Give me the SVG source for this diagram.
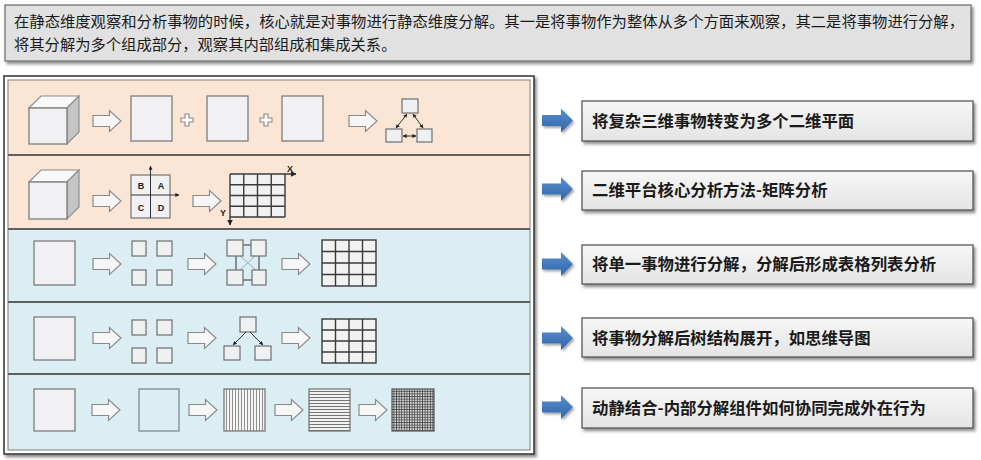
<svg xmlns="http://www.w3.org/2000/svg" width="981" height="460" viewBox="0 0 981 460">
<style>
.t{font-family:"Noto Sans CJK SC","Liberation Sans",sans-serif;fill:#1a1a1a}
.hd{font-size:15.3px}
.lb{font-size:16.4px;font-weight:bold}
.sq{fill:#f1f1f3;stroke:#7d7d7d;stroke-width:1.3}
.sm{fill:#eef0f2;stroke:#6f6f6f;stroke-width:1.2}
.ga{fill:#f6f6f6;stroke:#8a8a8a;stroke-width:1.2}
.ba{fill:url(#bg);filter:url(#sh2)}
.box{fill:url(#lg);stroke:#4d4d4d;stroke-width:1.2;filter:url(#sh)}
.ln{stroke:#333;stroke-width:1;fill:none}
.gl{stroke:#3a3a3a;stroke-width:1.4;fill:none}
.ax{font-family:"Liberation Sans",sans-serif;font-weight:bold;font-size:9px;fill:#222}
</style>
<defs>
<linearGradient id="lg" x1="0" y1="0" x2="0" y2="1"><stop offset="0" stop-color="#f7f7f7"/><stop offset="1" stop-color="#e4e4e4"/></linearGradient>
<linearGradient id="bg" x1="0" y1="0" x2="0" y2="1"><stop offset="0" stop-color="#5a8fd0"/><stop offset="1" stop-color="#2f64a8"/></linearGradient>
<filter id="sh" x="-5%" y="-20%" width="110%" height="150%"><feDropShadow dx="2" dy="2.5" stdDeviation="1.5" flood-color="#000" flood-opacity="0.45"/></filter>
<filter id="sh2" x="-20%" y="-30%" width="150%" height="170%"><feDropShadow dx="1.5" dy="2" stdDeviation="1.2" flood-color="#000" flood-opacity="0.35"/></filter>
<path id="ga" class="ga" d="M0,-5.5 H16.5 V-10.5 L28,0 L16.5,10.5 V5.5 H0 Z"/>
<path id="ba" d="M0,-5.5 H19 V-12 L31,0 L19,12 V5.5 H0 Z"/>
<path id="pl" d="M-2,-6 H2 V-2 H6 V2 H2 V6 H-2 V2 H-6 V-2 H-2 Z" fill="#fafafa" stroke="#8a8a8a" stroke-width="1.1"/>
<marker id="ah" viewBox="0 0 6 6" refX="5.5" refY="3" markerWidth="4" markerHeight="4" orient="auto-start-reverse"><path d="M0,0 L6,3 L0,6 Z" fill="#222"/></marker>
<pattern id="vs" width="3" height="10" patternUnits="userSpaceOnUse"><rect width="3" height="10" fill="#f4f4f4"/><line x1="1.5" y1="0" x2="1.5" y2="10" stroke="#777" stroke-width="0.8"/></pattern>
<pattern id="hs" width="10" height="3" patternUnits="userSpaceOnUse"><rect width="10" height="3" fill="#f2f2f2"/><line x1="0" y1="1.5" x2="10" y2="1.5" stroke="#666" stroke-width="0.9"/></pattern>
<pattern id="dg" width="2.6" height="2.6" patternUnits="userSpaceOnUse"><rect width="2.6" height="2.6" fill="#d8d8d8"/><line x1="1.3" y1="0" x2="1.3" y2="2.6" stroke="#333" stroke-width="0.7"/><line x1="0" y1="1.3" x2="2.6" y2="1.3" stroke="#333" stroke-width="0.7"/></pattern>
</defs>
<rect width="981" height="460" fill="#ffffff"/>

<g id="header">
<rect x="5" y="5" width="966" height="56" fill="#e1e1e1" stroke="#6a6a6a" stroke-width="1.2" filter="url(#sh)"/>
<text class="t hd" x="14" y="27" textLength="950" lengthAdjust="spacingAndGlyphs">在静态维度观察和分析事物的时候，核心就是对事物进行静态维度分解。其一是将事物作为整体从多个方面来观察，其二是将事物进行分解，</text>
<text class="t hd" x="14" y="50">将其分解为多个组成部分，观察其内部组成和集成关系。</text>
</g>

<g id="panel">
<rect x="4" y="76" width="530" height="378" fill="#ffffff" stroke="#3d3d3d" stroke-width="1.6" filter="url(#sh)"/>
<rect x="8" y="80" width="522" height="75" fill="#fbe5d5"/>
<rect x="8" y="155" width="522" height="74" fill="#fbe5d5"/>
<rect x="8" y="229" width="522" height="73" fill="#dbeef4"/>
<rect x="8" y="302" width="522" height="72" fill="#dbeef4"/>
<rect x="8" y="374" width="522" height="76" fill="#dbeef4"/>
<rect x="8" y="80" width="522" height="370" fill="none" stroke="#8f8f8f" stroke-width="1.2"/>
<g stroke="#5f5f5f" stroke-width="1.8">
<line x1="8" y1="155" x2="530" y2="155"/>
<line x1="8" y1="229" x2="530" y2="229"/>
<line x1="8" y1="302" x2="530" y2="302"/>
<line x1="8" y1="374" x2="530" y2="374"/>
</g>
</g>

<g id="row1">
<polygon points="29,108 41,96 79,96 67,108" fill="#f8f8f8" stroke="#8a8a8a" stroke-width="1.1"/>
<polygon points="67,108 79,96 79,132 67,144" fill="#c4c4c6" stroke="#8a8a8a" stroke-width="1.1"/>
<rect x="29" y="108" width="38" height="36" class="sq"/>
<rect x="131" y="96" width="41" height="45" class="sq"/>
<use href="#pl" x="187" y="120"/>
<rect x="207" y="96" width="41" height="45" class="sq"/>
<use href="#pl" x="266" y="120"/>
<rect x="282" y="96" width="41" height="45" class="sq"/>
<rect x="402" y="99" width="16" height="14" class="sm"/>
<rect x="386" y="129" width="16" height="13" class="sm"/>
<rect x="417" y="129" width="15" height="13" class="sm"/>
<line x1="407" y1="114" x2="396" y2="128" class="ln" marker-start="url(#ah)" marker-end="url(#ah)"/>
<line x1="413" y1="114" x2="423" y2="128" class="ln" marker-start="url(#ah)" marker-end="url(#ah)"/>
<line x1="403" y1="136" x2="416" y2="136" class="ln" marker-start="url(#ah)" marker-end="url(#ah)"/>
</g>

<g id="row2">
<polygon points="29,182 41,170 79,170 67,182" fill="#f8f8f8" stroke="#8a8a8a" stroke-width="1.1"/>
<polygon points="67,182 79,170 79,207 67,219" fill="#c4c4c6" stroke="#8a8a8a" stroke-width="1.1"/>
<rect x="29" y="182" width="38" height="37" class="sq"/>
<rect x="131" y="175" width="39" height="43" class="sq"/>
<line x1="150.5" y1="218" x2="150.5" y2="166" class="ln" marker-end="url(#ah)"/>
<line x1="131" y1="195" x2="179" y2="195" class="ln" marker-end="url(#ah)"/>
<text class="ax" x="141" y="189" text-anchor="middle">B</text>
<text class="ax" x="161" y="189" text-anchor="middle">A</text>
<text class="ax" x="141" y="211" text-anchor="middle">C</text>
<text class="ax" x="161" y="211" text-anchor="middle">D</text>
<rect x="230" y="174" width="55" height="43" fill="#f1f1f1"/>
<g class="gl">
<line x1="230" y1="174" x2="296" y2="174" marker-end="url(#ah)"/>
<line x1="230" y1="174" x2="230" y2="225" marker-end="url(#ah)"/>
<line x1="285" y1="174" x2="285" y2="217"/>
<line x1="243.75" y1="174" x2="243.75" y2="217"/>
<line x1="257.5" y1="174" x2="257.5" y2="217"/>
<line x1="271.25" y1="174" x2="271.25" y2="217"/>
<line x1="230" y1="184.75" x2="285" y2="184.75"/>
<line x1="230" y1="195.5" x2="285" y2="195.5"/>
<line x1="230" y1="206.25" x2="285" y2="206.25"/>
<line x1="230" y1="217" x2="285" y2="217"/>
</g>
<text class="ax" x="287" y="172" font-size="10">X</text>
<text class="ax" x="220" y="216" font-size="10">Y</text>
</g>

<g id="row3">
<rect x="34" y="241" width="41" height="44" class="sq"/>
<rect x="132" y="241" width="14" height="15" class="sm"/>
<rect x="157" y="241" width="15" height="15" class="sm"/>
<rect x="132" y="270" width="14" height="15" class="sm"/>
<rect x="157" y="270" width="15" height="15" class="sm"/>
<line x1="240" y1="256" x2="256" y2="270" stroke="#8fa8b8" stroke-width="0.9"/>
<line x1="255" y1="256" x2="240" y2="270" stroke="#8fa8b8" stroke-width="0.9"/>
<g class="ln"><line x1="243" y1="245" x2="252" y2="245"/><line x1="243" y1="280" x2="253" y2="280"/><line x1="236" y1="256" x2="236" y2="270"/><line x1="259" y1="256" x2="259" y2="270"/></g>
<rect x="227" y="240" width="16" height="16" class="sm"/>
<rect x="251" y="240" width="15" height="16" class="sm"/>
<rect x="227" y="270" width="16" height="15" class="sm"/>
<rect x="252" y="270" width="14" height="15" class="sm"/>
<rect x="322" y="240" width="54" height="46" fill="#f2f2f2" stroke="#3a3a3a" stroke-width="1.4"/>
<g class="gl">
<line x1="335.5" y1="240" x2="335.5" y2="286"/><line x1="349" y1="240" x2="349" y2="286"/><line x1="362.5" y1="240" x2="362.5" y2="286"/>
<line x1="322" y1="251.5" x2="376" y2="251.5"/><line x1="322" y1="263" x2="376" y2="263"/><line x1="322" y1="274.5" x2="376" y2="274.5"/>
</g>
</g>

<g id="row4">
<rect x="34" y="317" width="41" height="43" class="sq"/>
<rect x="132" y="320" width="14" height="15" class="sm"/>
<rect x="157" y="320" width="15" height="15" class="sm"/>
<rect x="132" y="348" width="14" height="15" class="sm"/>
<rect x="157" y="348" width="15" height="15" class="sm"/>
<rect x="240" y="317" width="16" height="15" class="sm"/>
<rect x="224" y="346" width="16" height="14" class="sm"/>
<rect x="255" y="346" width="16" height="14" class="sm"/>
<line x1="246" y1="332" x2="233" y2="345" class="ln" marker-end="url(#ah)"/>
<line x1="250" y1="332" x2="263" y2="345" class="ln" marker-end="url(#ah)"/>
<rect x="322" y="319" width="54" height="44" fill="#f2f2f2" stroke="#3a3a3a" stroke-width="1.4"/>
<g class="gl">
<line x1="335.5" y1="319" x2="335.5" y2="363"/><line x1="349" y1="319" x2="349" y2="363"/><line x1="362.5" y1="319" x2="362.5" y2="363"/>
<line x1="322" y1="330" x2="376" y2="330"/><line x1="322" y1="341" x2="376" y2="341"/><line x1="322" y1="352" x2="376" y2="352"/>
</g>
</g>

<g id="row5">
<rect x="34" y="389" width="41" height="42" class="sq"/>
<rect x="139" y="389" width="40" height="42" fill="#dbeef4" stroke="#7d8a90" stroke-width="1.3"/>
<rect x="224" y="389" width="41" height="42" fill="url(#vs)" stroke="#6f6f6f" stroke-width="1.2"/>
<rect x="309" y="389" width="41" height="42" fill="url(#hs)" stroke="#6f6f6f" stroke-width="1.2"/>
<rect x="392" y="389" width="42" height="42" fill="url(#dg)" stroke="#555" stroke-width="1.2"/>
</g>

<g id="labels">
<g id="label1"><rect x="582" y="101" width="391" height="40" class="box"/><text class="t lb" x="592" y="126.5">将复杂三维事物转变为多个二维平面</text></g>
<g id="label2"><rect x="582" y="171" width="391" height="39" class="box"/><text class="t lb" x="592" y="196">二维平台核心分析方法-矩阵分析</text></g>
<g id="label3"><rect x="582" y="245" width="391" height="39" class="box"/><text class="t lb" x="592" y="270">将单一事物进行分解，分解后形成表格列表分析</text></g>
<g id="label4"><rect x="582" y="318" width="391" height="39" class="box"/><text class="t lb" x="592" y="343.5">将事物分解后树结构展开，如思维导图</text></g>
<g id="label5"><rect x="582" y="388" width="391" height="40" class="box"/><text class="t lb" x="592" y="413.5">动静结合-内部分解组件如何协同完成外在行为</text></g>
</g>

<g id="connectors">
<use href="#ga" x="93" y="121"/>
<use href="#ga" x="349" y="121"/>
<use href="#ga" x="93" y="201"/>
<use href="#ga" x="193" y="201"/>
<use href="#ga" x="93" y="264"/>
<use href="#ga" x="188" y="264"/>
<use href="#ga" x="282" y="264"/>
<use href="#ga" x="93" y="338"/>
<use href="#ga" x="188" y="338"/>
<use href="#ga" x="282" y="338"/>
<use href="#ga" x="92" y="410"/>
<use href="#ga" x="189" y="410"/>
<use href="#ga" x="275" y="410"/>
<use href="#ga" x="359" y="410"/>
<use href="#ba" x="542" y="120.5" class="ba"/>
<use href="#ba" x="542" y="189" class="ba"/>
<use href="#ba" x="542" y="264" class="ba"/>
<use href="#ba" x="542" y="338" class="ba"/>
<use href="#ba" x="542" y="407" class="ba"/>
</g>
</svg>
